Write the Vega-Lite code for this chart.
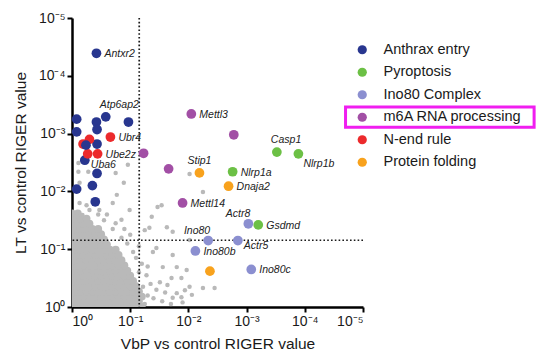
{
  "$schema": "https://vega.github.io/schema/vega-lite/v6.json",
  "width": 291,
  "height": 289,
  "autosize": "none",
  "padding": {"left": 72, "top": 18, "right": 181, "bottom": 54},
  "background": "white",
  "config": {
    "view": {"stroke": null},
    "font": "Liberation Sans",
    "axis": {
      "grid": false,
      "domainColor": "#000",
      "domainWidth": 2.5,
      "tickColor": "#000",
      "tickWidth": 2,
      "tickSize": 5,
      "labelFont": "Liberation Sans",
      "labelFontSize": 14,
      "labelColor": "#1a1a1a",
      "titleFont": "Liberation Sans",
      "titleFontSize": 15.5,
      "titleFontWeight": "normal",
      "titleColor": "#1a1a1a"
    }
  },
  "datasets": {
    "dense": [
      {"vbp":0,"lt":0},{"vbp":0.1,"lt":0},{"vbp":0.2,"lt":0},{"vbp":0.3,"lt":0},{"vbp":0.4,"lt":0},{"vbp":0.5,"lt":0},{"vbp":0.6,"lt":0},{"vbp":0.7,"lt":0},{"vbp":0.8,"lt":0},{"vbp":0.9,"lt":0},{"vbp":1,"lt":0},{"vbp":1.1,"lt":0},{"vbp":1.2,"lt":0},
      {"vbp":0.05,"lt":0.09},{"vbp":0.15,"lt":0.09},{"vbp":0.25,"lt":0.09},{"vbp":0.35,"lt":0.09},{"vbp":0.45,"lt":0.09},{"vbp":0.55,"lt":0.09},{"vbp":0.65,"lt":0.09},{"vbp":0.75,"lt":0.09},{"vbp":0.85,"lt":0.09},{"vbp":0.95,"lt":0.09},{"vbp":1.05,"lt":0.09},{"vbp":1.15,"lt":0.09},
      {"vbp":0,"lt":0.18},{"vbp":0.1,"lt":0.18},{"vbp":0.2,"lt":0.18},{"vbp":0.3,"lt":0.18},{"vbp":0.4,"lt":0.18},{"vbp":0.5,"lt":0.18},{"vbp":0.6,"lt":0.18},{"vbp":0.7,"lt":0.18},{"vbp":0.8,"lt":0.18},{"vbp":0.9,"lt":0.18},{"vbp":1,"lt":0.18},{"vbp":1.1,"lt":0.18},{"vbp":1.2,"lt":0.18},
      {"vbp":0.05,"lt":0.27},{"vbp":0.15,"lt":0.27},{"vbp":0.25,"lt":0.27},{"vbp":0.35,"lt":0.27},{"vbp":0.45,"lt":0.27},{"vbp":0.55,"lt":0.27},{"vbp":0.65,"lt":0.27},{"vbp":0.75,"lt":0.27},{"vbp":0.85,"lt":0.27},{"vbp":0.95,"lt":0.27},{"vbp":1.05,"lt":0.27},{"vbp":1.15,"lt":0.27},
      {"vbp":0,"lt":0.36},{"vbp":0.1,"lt":0.36},{"vbp":0.2,"lt":0.36},{"vbp":0.3,"lt":0.36},{"vbp":0.4,"lt":0.36},{"vbp":0.5,"lt":0.36},{"vbp":0.6,"lt":0.36},{"vbp":0.7,"lt":0.36},{"vbp":0.8,"lt":0.36},{"vbp":0.9,"lt":0.36},{"vbp":1,"lt":0.36},{"vbp":1.1,"lt":0.36},
      {"vbp":0.05,"lt":0.45},{"vbp":0.15,"lt":0.45},{"vbp":0.25,"lt":0.45},{"vbp":0.35,"lt":0.45},{"vbp":0.45,"lt":0.45},{"vbp":0.55,"lt":0.45},{"vbp":0.65,"lt":0.45},{"vbp":0.75,"lt":0.45},{"vbp":0.85,"lt":0.45},{"vbp":0.95,"lt":0.45},{"vbp":1.05,"lt":0.45},
      {"vbp":0,"lt":0.54},{"vbp":0.1,"lt":0.54},{"vbp":0.2,"lt":0.54},{"vbp":0.3,"lt":0.54},{"vbp":0.4,"lt":0.54},{"vbp":0.5,"lt":0.54},{"vbp":0.6,"lt":0.54},{"vbp":0.7,"lt":0.54},{"vbp":0.8,"lt":0.54},{"vbp":0.9,"lt":0.54},{"vbp":1,"lt":0.54},
      {"vbp":0.05,"lt":0.63},{"vbp":0.15,"lt":0.63},{"vbp":0.25,"lt":0.63},{"vbp":0.35,"lt":0.63},{"vbp":0.45,"lt":0.63},{"vbp":0.55,"lt":0.63},{"vbp":0.65,"lt":0.63},{"vbp":0.75,"lt":0.63},{"vbp":0.85,"lt":0.63},{"vbp":0.95,"lt":0.63},
      {"vbp":0,"lt":0.72},{"vbp":0.1,"lt":0.72},{"vbp":0.2,"lt":0.72},{"vbp":0.3,"lt":0.72},{"vbp":0.4,"lt":0.72},{"vbp":0.5,"lt":0.72},{"vbp":0.6,"lt":0.72},{"vbp":0.7,"lt":0.72},{"vbp":0.8,"lt":0.72},{"vbp":0.9,"lt":0.72},
      {"vbp":0.05,"lt":0.81},{"vbp":0.15,"lt":0.81},{"vbp":0.25,"lt":0.81},{"vbp":0.35,"lt":0.81},{"vbp":0.45,"lt":0.81},{"vbp":0.55,"lt":0.81},{"vbp":0.65,"lt":0.81},{"vbp":0.75,"lt":0.81},{"vbp":0.85,"lt":0.81},
      {"vbp":0,"lt":0.9},{"vbp":0.1,"lt":0.9},{"vbp":0.2,"lt":0.9},{"vbp":0.3,"lt":0.9},{"vbp":0.4,"lt":0.9},{"vbp":0.5,"lt":0.9},{"vbp":0.6,"lt":0.9},{"vbp":0.7,"lt":0.9},{"vbp":0.8,"lt":0.9},
      {"vbp":0.05,"lt":0.99},{"vbp":0.15,"lt":0.99},{"vbp":0.25,"lt":0.99},{"vbp":0.35,"lt":0.99},{"vbp":0.45,"lt":0.99},{"vbp":0.55,"lt":0.99},{"vbp":0.65,"lt":0.99},{"vbp":0.75,"lt":0.99},
      {"vbp":0,"lt":1.08},{"vbp":0.1,"lt":1.08},{"vbp":0.2,"lt":1.08},{"vbp":0.3,"lt":1.08},{"vbp":0.4,"lt":1.08},{"vbp":0.5,"lt":1.08},{"vbp":0.6,"lt":1.08},
      {"vbp":0.05,"lt":1.17},{"vbp":0.15,"lt":1.17},{"vbp":0.25,"lt":1.17},{"vbp":0.35,"lt":1.17},{"vbp":0.45,"lt":1.17},{"vbp":0.55,"lt":1.17},
      {"vbp":0,"lt":1.26},{"vbp":0.1,"lt":1.26},{"vbp":0.2,"lt":1.26},{"vbp":0.3,"lt":1.26},{"vbp":0.4,"lt":1.26},{"vbp":0.5,"lt":1.26},
      {"vbp":0.05,"lt":1.35},{"vbp":0.15,"lt":1.35},{"vbp":0.25,"lt":1.35},{"vbp":0.35,"lt":1.35},{"vbp":0.45,"lt":1.35},
      {"vbp":0,"lt":1.44},{"vbp":0.1,"lt":1.44},{"vbp":0.2,"lt":1.44},{"vbp":0.3,"lt":1.44},
      {"vbp":0.05,"lt":1.53},{"vbp":0.15,"lt":1.53},{"vbp":0.25,"lt":1.53},
      {"vbp":0,"lt":1.62},{"vbp":0.1,"lt":1.62}
    ],
    "sparse": [
      {"vbp":0.11,"lt":2.49},{"vbp":0.28,"lt":2.34},{"vbp":0.11,"lt":2.34},{"vbp":0.75,"lt":2.32},{"vbp":0.96,"lt":2.46},
      {"vbp":2.02,"lt":2.3},{"vbp":0.13,"lt":2.15},{"vbp":0.89,"lt":2.15},{"vbp":0.77,"lt":1.94},{"vbp":0.7,"lt":1.8},
      {"vbp":0.13,"lt":1.8},{"vbp":0.25,"lt":1.76},{"vbp":0.08,"lt":1.56},{"vbp":0.18,"lt":1.59},{"vbp":0.47,"lt":1.68},
      {"vbp":0.99,"lt":1.68},{"vbp":0.85,"lt":1.51},{"vbp":1.37,"lt":1.56},{"vbp":1.33,"lt":1.37},{"vbp":1.47,"lt":1.73},
      {"vbp":1.25,"lt":1.33},{"vbp":1.63,"lt":1.38},{"vbp":1.73,"lt":1.3},{"vbp":2.02,"lt":1.16},{"vbp":1.45,"lt":1.02},
      {"vbp":1.39,"lt":0.95},{"vbp":1.73,"lt":0.9},{"vbp":1.56,"lt":0.69},{"vbp":1.8,"lt":0.69},{"vbp":1.97,"lt":0.64},
      {"vbp":1.71,"lt":0.5},{"vbp":1.88,"lt":0.5},{"vbp":1.51,"lt":0.43},{"vbp":1.64,"lt":0.38},{"vbp":1.94,"lt":0.29},
      {"vbp":2.02,"lt":0.35},{"vbp":1.8,"lt":0.24},{"vbp":1.88,"lt":0.17},{"vbp":2.25,"lt":0.33},{"vbp":2.45,"lt":0.33},
      {"vbp":2.06,"lt":0.21},{"vbp":1.73,"lt":0.16},{"vbp":2.25,"lt":1.99},{"vbp":1.54,"lt":1.76},
      {"vbp":1.25,"lt":0.05},{"vbp":1.3,"lt":0.2},{"vbp":1.22,"lt":0.35},{"vbp":1.35,"lt":0.4},{"vbp":1.28,"lt":0.55},
      {"vbp":1.15,"lt":0.6},{"vbp":1.2,"lt":0.75},{"vbp":1.1,"lt":0.85},{"vbp":1.3,"lt":0.7},{"vbp":1.4,"lt":0.15},
      {"vbp":1.45,"lt":0.3},{"vbp":1.05,"lt":0.95},{"vbp":0.95,"lt":1.1},{"vbp":0.85,"lt":1.2},{"vbp":1.0,"lt":1.25},
      {"vbp":0.7,"lt":1.35},{"vbp":0.75,"lt":1.45},{"vbp":0.55,"lt":1.5},{"vbp":0.45,"lt":1.6},{"vbp":0.3,"lt":1.68},
      {"vbp":0.6,"lt":1.6},{"vbp":1.15,"lt":1.05},{"vbp":0.9,"lt":1.35},{"vbp":1.55,"lt":0.1},{"vbp":1.6,"lt":0.25},
      {"vbp":1.7,"lt":0.05},{"vbp":1.9,"lt":0.08}
    ],
    "cutoff": [{"threshold": 1.155}],
    "genes": [
      {"gene":"Antxr2","group":"Anthrax entry","vbp":0.42,"lt":4.39},
      {"gene":"Atp6ap2","group":"Anthrax entry","vbp":0.58,"lt":3.29},
      {"group":"Anthrax entry","vbp":0.08,"lt":3.25},
      {"group":"Anthrax entry","vbp":0.42,"lt":3.2},
      {"group":"Anthrax entry","vbp":0.97,"lt":3.2},
      {"group":"Anthrax entry","vbp":0.08,"lt":3.03},
      {"group":"Anthrax entry","vbp":0.43,"lt":3.07},
      {"group":"Anthrax entry","vbp":0.43,"lt":2.82},
      {"gene":"Uba6","group":"Anthrax entry","vbp":0.22,"lt":2.54},
      {"group":"Anthrax entry","vbp":0.43,"lt":2.31},
      {"group":"Anthrax entry","vbp":0.35,"lt":2.1},
      {"group":"Anthrax entry","vbp":0.08,"lt":2.04},
      {"group":"Anthrax entry","vbp":0.4,"lt":1.82},
      {"group":"N-end rule","vbp":0.19,"lt":2.82},
      {"group":"N-end rule","vbp":0.3,"lt":2.9},
      {"gene":"Ubr4","group":"N-end rule","vbp":0.66,"lt":2.94},
      {"group":"N-end rule","vbp":0.27,"lt":2.65},
      {"gene":"Ube2z","group":"N-end rule","vbp":0.44,"lt":2.65},
      {"group":"Anthrax entry","vbp":0.24,"lt":2.8},
      {"gene":"Mettl3","group":"m6A RNA processing","vbp":2.05,"lt":3.34},
      {"group":"m6A RNA processing","vbp":2.78,"lt":2.98},
      {"group":"m6A RNA processing","vbp":1.23,"lt":2.66},
      {"group":"m6A RNA processing","vbp":1.66,"lt":2.39},
      {"gene":"Mettl14","group":"m6A RNA processing","vbp":1.9,"lt":1.8},
      {"gene":"Casp1","group":"Pyroptosis","vbp":3.52,"lt":2.68},
      {"gene":"Nlrp1b","group":"Pyroptosis","vbp":3.89,"lt":2.65},
      {"gene":"Nlrp1a","group":"Pyroptosis","vbp":2.76,"lt":2.34},
      {"gene":"Gsdmd","group":"Pyroptosis","vbp":3.2,"lt":1.42},
      {"gene":"Stip1","group":"Protein folding","vbp":2.19,"lt":2.32},
      {"gene":"Dnaja2","group":"Protein folding","vbp":2.69,"lt":2.09},
      {"group":"Protein folding","vbp":2.37,"lt":0.62},
      {"gene":"Actr8","group":"Ino80 Complex","vbp":3.03,"lt":1.44},
      {"gene":"Ino80","group":"Ino80 Complex","vbp":2.34,"lt":1.15},
      {"gene":"Actr5","group":"Ino80 Complex","vbp":2.85,"lt":1.15},
      {"gene":"Ino80b","group":"Ino80 Complex","vbp":2.12,"lt":0.97},
      {"gene":"Ino80c","group":"Ino80 Complex","vbp":3.08,"lt":0.65}
    ]
  },
  "layer": [
    {
      "data": {"name": "dense"},
      "mark": {"type": "circle", "size": 62, "opacity": 1, "color": "#b9b9b9", "clip": true},
      "encoding": {
        "x": {"field": "vbp", "type": "quantitative", "title": "VbP vs control RIGER value",
          "scale": {"domain": [0, 5], "nice": false, "zero": false},
          "axis": {"values": [0, 1, 2, 3, 4, 5], "labelExpr": "'10' + ['⁰','⁻¹','⁻²','⁻³','⁻⁴','⁻⁵'][datum.value]", "labelPadding": 2, "titlePadding": 8}},
        "y": {"field": "lt", "type": "quantitative", "title": "LT vs control RIGER value",
          "scale": {"domain": [0, 5], "nice": false, "zero": false},
          "axis": {"values": [0, 1, 2, 3, 4, 5], "labelExpr": "'10' + ['⁰','⁻¹','⁻²','⁻³','⁻⁴','⁻⁵'][datum.value]", "labelPadding": 2, "titlePadding": 10}}
      }
    },
    {
      "data": {"name": "sparse"},
      "mark": {"type": "circle", "size": 20, "opacity": 1, "color": "#b9b9b9", "clip": true},
      "encoding": {
        "x": {"field": "vbp", "type": "quantitative", "title": "VbP vs control RIGER value"},
        "y": {"field": "lt", "type": "quantitative", "title": "LT vs control RIGER value"}
      }
    },
    {
      "data": {"name": "cutoff"},
      "mark": {"type": "rule", "strokeDash": [1.6, 2.2], "strokeWidth": 1.7, "color": "#1a1a1a"},
      "encoding": {
        "x": {"field": "threshold", "type": "quantitative", "title": "VbP vs control RIGER value"}
      }
    },
    {
      "data": {"name": "cutoff"},
      "mark": {"type": "rule", "strokeDash": [1.6, 2.2], "strokeWidth": 1.7, "color": "#1a1a1a"},
      "encoding": {
        "y": {"field": "threshold", "type": "quantitative", "title": "LT vs control RIGER value"}
      }
    },
    {
      "data": {"name": "genes"},
      "mark": {"type": "circle", "size": 95, "opacity": 1},
      "encoding": {
        "x": {"field": "vbp", "type": "quantitative", "title": "VbP vs control RIGER value"},
        "y": {"field": "lt", "type": "quantitative", "title": "LT vs control RIGER value"},
        "color": {
          "field": "group", "type": "nominal",
          "scale": {
            "domain": ["Anthrax entry", "Pyroptosis", "Ino80 Complex", "m6A RNA processing", "N-end rule", "Protein folding"],
            "range": ["#28368f", "#6cc045", "#8b8fd0", "#a24fa5", "#ec2a2c", "#f8a21d"]
          },
          "legend": {
            "orient": "none", "legendX": 283, "legendY": 24.5, "title": null,
            "labelFontSize": 14.5, "labelColor": "#1a1a1a", "labelFont": "Liberation Sans",
            "symbolSize": 85, "symbolType": "circle", "symbolOpacity": 1,
            "rowPadding": 7.5, "labelOffset": 14, "padding": 0, "labelLimit": 300
          }
        }
      }
    },
    {
      "data": {"name": "genes"},
      "transform": [{"filter": {"field": "gene", "oneOf": ["Antxr2", "Ubr4", "Ube2z", "Mettl3", "Nlrp1a", "Dnaja2", "Mettl14", "Gsdmd", "Ino80b", "Ino80c"]}}],
      "mark": {"type": "text", "align": "left", "baseline": "middle", "dx": 8, "dy": 1, "fontSize": 10.5, "fontStyle": "italic", "color": "#222"},
      "encoding": {
        "x": {"field": "vbp", "type": "quantitative"},
        "y": {"field": "lt", "type": "quantitative"},
        "text": {"field": "gene"}
      }
    },
    {
      "data": {"name": "genes"},
      "transform": [{"filter": {"field": "gene", "oneOf": ["Uba6", "Actr5"]}}],
      "mark": {"type": "text", "align": "left", "baseline": "middle", "dx": 6, "dy": 5, "fontSize": 10.5, "fontStyle": "italic", "color": "#222"},
      "encoding": {
        "x": {"field": "vbp", "type": "quantitative"},
        "y": {"field": "lt", "type": "quantitative"},
        "text": {"field": "gene"}
      }
    },
    {
      "data": {"name": "genes"},
      "transform": [{"filter": {"field": "gene", "oneOf": ["Nlrp1b"]}}],
      "mark": {"type": "text", "align": "left", "baseline": "middle", "dx": 5, "dy": 10, "fontSize": 10.5, "fontStyle": "italic", "color": "#222"},
      "encoding": {
        "x": {"field": "vbp", "type": "quantitative"},
        "y": {"field": "lt", "type": "quantitative"},
        "text": {"field": "gene"}
      }
    },
    {
      "data": {"name": "genes"},
      "transform": [{"filter": {"field": "gene", "oneOf": ["Casp1", "Atp6ap2"]}}],
      "mark": {"type": "text", "align": "left", "baseline": "middle", "dx": -6, "dy": -12, "fontSize": 10.5, "fontStyle": "italic", "color": "#222"},
      "encoding": {
        "x": {"field": "vbp", "type": "quantitative"},
        "y": {"field": "lt", "type": "quantitative"},
        "text": {"field": "gene"}
      }
    },
    {
      "data": {"name": "genes"},
      "transform": [{"filter": {"field": "gene", "oneOf": ["Stip1"]}}],
      "mark": {"type": "text", "align": "center", "baseline": "middle", "dx": 0, "dy": -12, "fontSize": 10.5, "fontStyle": "italic", "color": "#222"},
      "encoding": {
        "x": {"field": "vbp", "type": "quantitative"},
        "y": {"field": "lt", "type": "quantitative"},
        "text": {"field": "gene"}
      }
    },
    {
      "data": {"name": "genes"},
      "transform": [{"filter": {"field": "gene", "oneOf": ["Actr8", "Ino80"]}}],
      "mark": {"type": "text", "align": "right", "baseline": "middle", "dx": 2, "dy": -10, "fontSize": 10.5, "fontStyle": "italic", "color": "#222"},
      "encoding": {
        "x": {"field": "vbp", "type": "quantitative"},
        "y": {"field": "lt", "type": "quantitative"},
        "text": {"field": "gene"}
      }
    },
    {
      "data": {"values": [{"highlight": "m6A RNA processing"}]},
      "mark": {"type": "rect", "filled": false, "stroke": "#f01ef0", "strokeWidth": 3},
      "encoding": {
        "x": {"datum": 4.7, "type": "quantitative"},
        "x2": {"datum": 7.94},
        "y": {"datum": 3.46, "type": "quantitative"},
        "y2": {"datum": 3.11}
      }
    }
  ]
}
